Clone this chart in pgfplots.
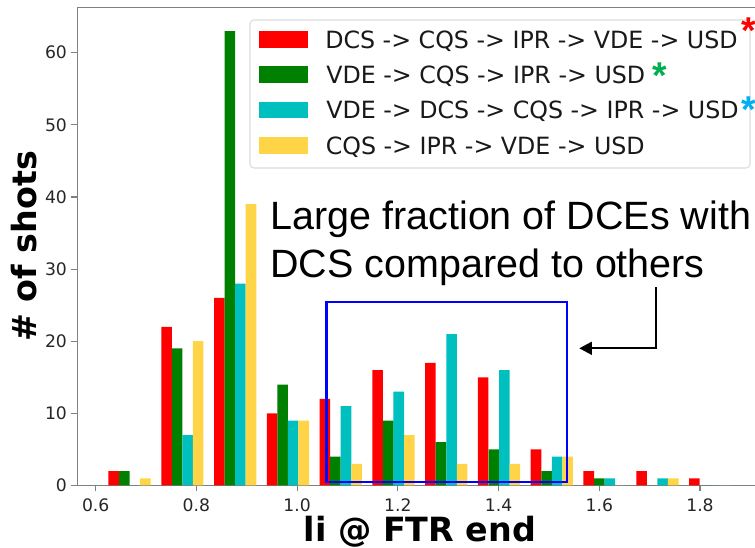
\documentclass[border=0pt]{standalone}
\usepackage{pgfplots}
\pgfplotsset{compat=1.18}
\usepackage{fontspec}
\setmainfont{DejaVu Sans}
\newfontfamily\arial{Liberation Sans}
\usetikzlibrary{arrows.meta}

\definecolor{barred}{RGB}{255,0,0}
\definecolor{bargreen}{RGB}{0,128,0}
\definecolor{barcyan}{RGB}{0,191,191}
\definecolor{baryellow}{RGB}{255,212,71}
\definecolor{stargreen}{RGB}{0,176,80}
\definecolor{starblue}{RGB}{0,176,240}
\definecolor{spine}{RGB}{128,128,128}
\definecolor{legframe}{RGB}{220,220,220}

\begin{document}
\begin{tikzpicture}
\begin{axis}[
  at={(0,0)}, anchor=south west,
  scale only axis, width=513.75pt, height=358.65pt,
  xmin=0.5639, xmax=1.9241, ymin=0, ymax=66.3,
  axis line style={spine, line width=0.8pt},
  tick style={spine, line width=0.8pt},
  major tick length=4.5pt, tick align=outside, tick pos=left,
  xtick={0.6,0.8,1.0,1.2,1.4,1.6,1.8},
  xticklabels={0.6,0.8,1.0,1.2,1.4,1.6,1.8},
  ytick={0,10,20,30,40,50,60},
  /pgf/number format/assume math mode=true,
  ticklabel style={font=\fontsize{12.9}{15}\selectfont, text=black!85, inner sep=0pt},
  xticklabel style={anchor=north, yshift=-5.5pt},
  yticklabel style={anchor=east, xshift=-3.25pt},
  xlabel={\bfseries li @ FTR end},
  ylabel={\bfseries \# of shots},
  label style={font=\fontsize{25}{30}\selectfont, inner sep=0pt},
  xlabel style={at={(axis description cs:0.5,0)}, anchor=base, yshift=-42.15pt},
  % the y label is rotated, so its own y direction points left
  ylabel style={at={(axis description cs:0,0.5)}, anchor=base, yshift=30.6pt},
  clip=false,
]
% bin width 0.1048; four bars per bin, each 0.02096 wide
\addplot[ybar, bar width=0.02096, bar shift=0pt, fill=barred, draw=none] coordinates {
  (0.6359,2) (0.7407,22) (0.8455,26) (0.9503,10) (1.0551,12) (1.1599,16)
  (1.2647,17) (1.3695,15) (1.4743,5) (1.5791,2) (1.6839,2) (1.7887,1)};
\addplot[ybar, bar width=0.02096, bar shift=0pt, fill=bargreen, draw=none] coordinates {
  (0.6569,2) (0.7617,19) (0.8665,63) (0.9713,14) (1.0761,4) (1.1809,9)
  (1.2857,6) (1.3905,5) (1.4953,2) (1.6001,1) (1.7049,0) (1.8097,0)};
\addplot[ybar, bar width=0.02096, bar shift=0pt, fill=barcyan, draw=none] coordinates {
  (0.6778,0) (0.7826,7) (0.8874,28) (0.9922,9) (1.0970,11) (1.2018,13)
  (1.3066,21) (1.4114,16) (1.5162,4) (1.6210,1) (1.7258,1) (1.8306,0)};
\addplot[ybar, bar width=0.02096, bar shift=0pt, fill=baryellow, draw=none] coordinates {
  (0.6988,1) (0.8036,20) (0.9084,39) (1.0132,9) (1.1180,3) (1.2228,7)
  (1.3276,3) (1.4324,3) (1.5372,4) (1.6420,0) (1.7468,1) (1.8516,0)};
\end{axis}

% overlay in pixel units of the full figure (origin top left)
\begin{scope}[x=0.75pt, y=-0.75pt, shift={(-58.125pt,364.125pt)}]
  % legend
  \draw[legframe, fill=white, line width=0.8pt, rounded corners=3pt] (250,20) rectangle (750,168);
  \fill[barred]     (259.3,31) rectangle (308.3,48.3);
  \fill[bargreen]   (259.3,66.5) rectangle (308.3,83.3);
  \fill[barcyan]    (259.3,101.7) rectangle (308.3,118.5);
  \fill[baryellow]  (259.3,137) rectangle (308.3,154);
  \begin{scope}[every node/.style={anchor=base west, inner sep=0pt, font=\fontsize{17.8}{21}\selectfont, text=black!90}]
    \node at (325,48.2)  {DCS -> CQS -> IPR -> VDE -> USD};
    \node at (326,83.5)  {VDE -> CQS -> IPR -> USD};
    \node at (326,118.8) {VDE -> DCS -> CQS -> IPR -> USD};
    \node at (325.5,154.1) {CQS -> IPR -> VDE -> USD};
  \end{scope}
  \begin{scope}[every node/.style={anchor=base, inner sep=0pt, font=\arial\bfseries\fontsize{28}{30}\selectfont}]
    \node[text=barred] at (749,44) {*};
    \node[text=stargreen] at (660,89) {*};
    \node[text=starblue] at (749,123) {*};
  \end{scope}
  % annotation
  \begin{scope}[every node/.style={anchor=base west, inner sep=0pt, font=\arial\fontsize{29.6}{34}\selectfont}]
    \node at (270.4,230) {Large fraction of DCEs with};
    \node at (270.2,277.7) {DCS compared to others};
  \end{scope}
  \draw[blue, line width=1.65pt] (326.5,302.3) rectangle (567.3,482);
  \draw[black, line width=1.5pt, -{Triangle[length=9.5pt, width=9.75pt]}] (655.7,287.3) -- (655.7,348.3) -- (579.3,348.3);
  \pgfresetboundingbox
  \path[use as bounding box] (0,0) rectangle (755,548);
\end{scope}
\end{tikzpicture}
\end{document}
